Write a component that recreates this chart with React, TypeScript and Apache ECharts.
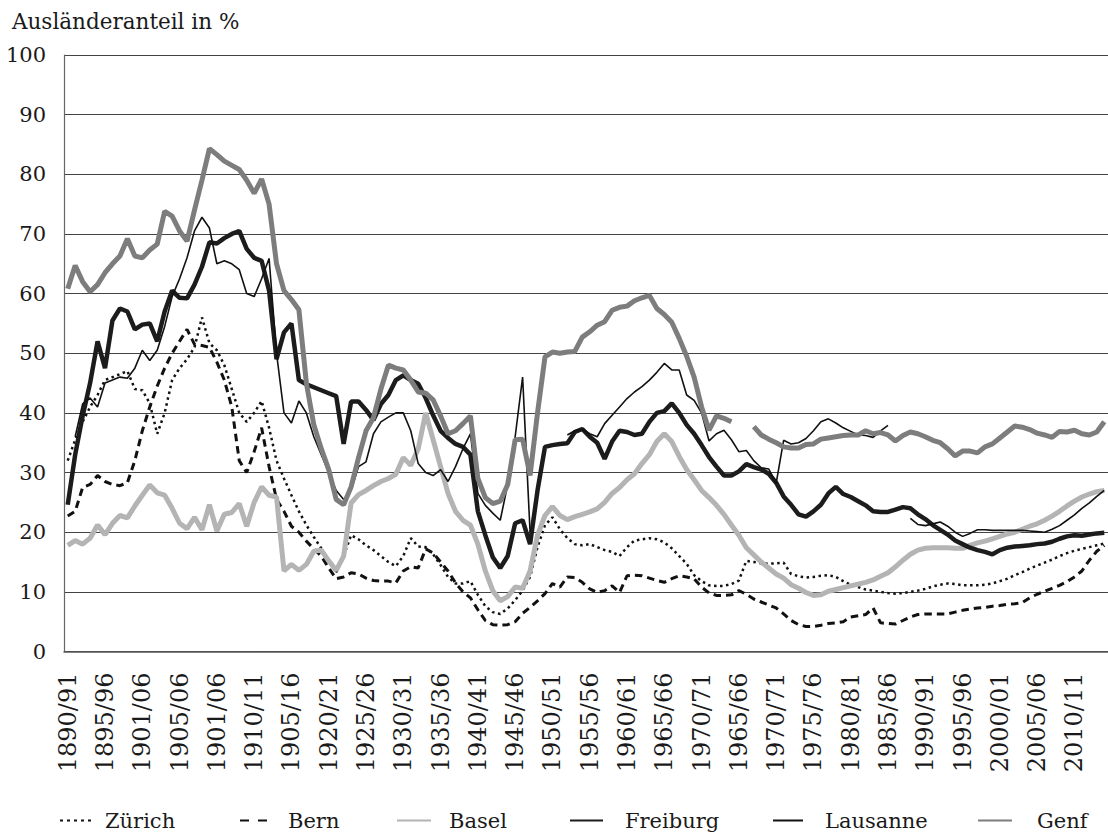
import React, { useEffect, useRef } from "react";
import * as echarts from "echarts";

const tickLabels = ["1890/91","1895/96","1901/06","1905/06","1901/06","1910/11","1905/16","1920/21","1925/26","1930/31","1935/36","1940/41","1945/46","1950/51","1955/56","1960/61","1965/66","1970/71","1965/66","1970/71","1975/76","1980/81","1985/86","1990/91","1995/96","2000/01","2005/06","2010/11"];

const zuerich = [
  32, 35.5, 38.5, 41, 43, 45.5, 46, 46.5, 47, 44,
  43.8, 41.6, 36.5, 40, 45.5, 47.5, 49, 51, 56, 51.7,
  50.5, 48, 44, 40, 38.5, 40, 42, 37.5, 32, 29,
  26.2, 23.5, 21.2, 19.2, 17.3, 15.3, 13.3, 16, 19.5, 18.8,
  17.8, 17, 16, 15, 14.3, 16, 19, 17.6, 17.5, 16.3,
  14.5, 12.5, 11.4, 11.4, 11.8, 9.5, 7.6, 6.6, 6.3, 7.2,
  8.6, 10.2, 12.5, 17.5, 21.2, 22.5, 20.5, 19, 18, 17.8,
  18, 17.5, 17, 16.7, 16, 17.5, 18.6, 18.8, 19, 18.8,
  18.3, 17.3, 16, 14.7, 12.8, 11.8, 11.1, 11, 11, 11.3,
  11.9, 15.2, 15, 14.8, 14.7, 14.8, 14.9, 13, 12.6, 12.4,
  12.5, 12.7, 12.8, 12.5, 11.8, 11.2, 10.8, 10.4, 10.2, 10,
  9.8, 9.7, 9.8, 10, 10.2, 10.5, 10.9, 11.2, 11.4, 11.3,
  11.1, 11.1, 11.1, 11.2, 11.4, 11.8, 12.2, 12.8, 13.3, 13.9,
  14.4, 14.9, 15.4, 16, 16.5, 16.9, 17.2, 17.5, 17.8, 18.1,
];

const bern = [
  22.7, 23.5, 27.5, 28, 29.5, 28.5, 28, 27.8, 28.3, 32,
  37, 41, 44.5, 47.5, 50, 52, 54, 51.5, 51.3, 51,
  48.5, 45.5, 41, 32, 30, 33.5, 37.5, 31, 25.5, 23.5,
  21, 20, 18.5, 17.2, 16, 14, 12.2, 12.5, 13.2, 13,
  12.3, 11.9, 11.8, 11.8, 11.5, 13.5, 14.2, 14, 17.2, 16.5,
  15, 13.5, 11.5, 10, 9, 7, 5.2, 4.5, 4.4, 4.5,
  5, 6.4, 7.4, 8.5, 9.7, 11.4, 10.8, 12.5, 12.4, 11.6,
  10.5, 9.9, 10.2, 11, 9.9, 12.7, 12.8, 12.7, 12.3, 11.9,
  11.6, 12.2, 12.7, 12.5, 12.2, 10.8, 9.8, 9.4, 9.4, 9.5,
  10.2, 9.6, 8.8, 8.3, 7.8, 7.3, 6.3, 5.2, 4.5, 4.2,
  4.2, 4.4, 4.7, 4.8, 5, 5.8, 6, 6.2, 7.3, 4.8,
  4.7, 4.6, 5.2, 5.8, 6.2, 6.3, 6.3, 6.3, 6.3, 6.6,
  6.9, 7.1, 7.3, 7.4, 7.6, 7.7, 7.9, 8, 8.2, 9,
  9.6, 10.1, 10.6, 11.1, 11.7, 12.5, 13.5, 15.3, 16.8, 17.8,
];

const basel = [
  17.8, 18.6, 18, 19, 21.2, 19.6, 21.5, 22.8, 22.4, 24.4,
  26.2, 27.9, 26.6, 26.2, 24, 21.5, 20.6, 22.5, 20.4, 24.6,
  20.2, 23, 23.3, 24.8, 21, 25, 27.6, 26.2, 25.9, 13.5,
  14.6, 13.6, 14.6, 16.8, 17, 15.2, 13.6, 16, 24.9, 26.3,
  27, 27.8, 28.5, 29, 29.7, 32.5, 31.2, 34, 40, 35.5,
  31, 26.5, 23.5, 22, 21.2, 18, 13.5, 10.2, 8.5, 9.2,
  10.8, 10.6, 13.5, 19.5, 22.8, 24.3, 22.8, 22.1, 22.6, 23,
  23.4, 23.9, 25, 26.5, 27.5, 28.8, 29.8, 31.5, 33, 35.2,
  36.5, 35.2, 32.7, 30.5, 28.8, 27, 25.8, 24.5, 23, 21.2,
  19.5, 17.4, 16.2, 15, 14, 13, 12.3, 11.2, 10.6, 9.9,
  9.4, 9.5, 10.1, 10.4, 10.7, 11, 11.3, 11.6, 12, 12.6,
  13.2, 14.2, 15.3, 16.3, 17, 17.3, 17.4, 17.4, 17.4, 17.3,
  17.3, 17.8, 18.2, 18.5, 18.9, 19.3, 19.7, 20, 20.5, 21,
  21.4, 22, 22.7, 23.5, 24.4, 25.2, 25.9, 26.4, 26.8, 27,
];

const freiburg = [
  24.6, 33, 39.5, 45, 52, 47.5, 55.5, 57.5, 57, 54,
  54.8, 55, 52, 57, 60.5, 59.3, 59.2, 61.5, 64.5, 68.6,
  68.4, 69.3, 70, 70.5, 67.5, 66, 65.5, 60.5, 49, 53.5,
  55, 45.5, 44.8, 44.3, 43.8, 43.3, 42.8, 34.8, 41.9, 41.9,
  40.5, 38.8, 41.5, 43, 45.5, 46.3, 45.5, 44.9, 42.5, 39.6,
  37, 35.8, 34.8, 34.3, 33, 23.5, 19.5, 15.8, 14, 16,
  21.5, 22, 18, 27, 34.3, 34.6, 34.8, 34.9, 36.8, 37.3,
  36, 35, 32.3, 35.2, 37, 36.8, 36.3, 36.5, 38.5, 40,
  40.3, 41.6, 40, 38, 36.5, 34.6, 32.6, 31, 29.5, 29.5,
  30.2, 31.4, 30.9, 30.5, 29.8, 28.3, 26, 24.6, 23, 22.6,
  23.5, 24.6, 26.5, 27.6, 26.4, 25.9, 25.2, 24.5, 23.5, 23.4,
  23.4, 23.8, 24.2, 24, 23, 22.2, 21.2, 20.4, 19.6, 18.6,
  18, 17.4, 17, 16.7, 16.3, 17, 17.4, 17.6, 17.7, 17.8,
  18, 18.1, 18.4, 18.9, 19.3, 19.5, 19.4, 19.6, 19.8, 19.9,
];

const lausanne = [
  null, 36, 41.5, 42.5, 41, 45, 45.5, 46, 45.8, 47.5,
  50.5, 48.8, 50.5, 54.5, 59.5, 62.5, 66, 70.5, 72.8, 71,
  65, 65.5, 65, 64, 60, 59.5, 62.5, 65.9, 50, 40,
  38.3, 42, 40, 36, 33, 30, 27, 25.5, 27, 31,
  31.8, 36.5, 38.5, 39.3, 40, 40, 37, 31.5, 30, 29.5,
  30.5, 28.5, 31, 34, 36.5, 26.5, 24.5, 23.2, 22, 28,
  36, 46, 20, null, null, null, null, 36.3, 37, 37.3,
  36.5, 36, 38.2, 39.6, 41, 42.4, 43.5, 44.4, 45.5, 46.8,
  48.3, 47.2, 47.2, 43, 42.1, 40, 35.3, 36.5, 37.1, 35.5,
  33.5, 33.7, 32, 30.8, 30.6, 28.2, 35.4, 34.8, 35, 35.7,
  37, 38.5, 39, 38.3, 37.5, 36.9, 36.3, 36.2, 35.9, 37,
  37.9, null, null, 22.3, 21.3, 21.1, 21.4, 21.7, 21, 20,
  19.3, 19.8, 20.4, 20.4, 20.3, 20.3, 20.3, 20.3, 20.3, 20.2,
  20.1, 20, 20.5, 21.1, 22, 22.9, 24, 24.9, 26, 27,
];

const genf = [
  60.8, 64.7, 62, 60.3, 61.5, 63.5, 65, 66.3, 69.2, 66.3,
  66, 67.3, 68.3, 73.8, 73, 70.5, 68.8, 74, 79, 84.3,
  83.3, 82.2, 81.5, 80.8, 79, 76.8, 79.2, 75, 65, 60.5,
  59, 57.3, 45, 38, 34, 30.5, 25.5, 24.6, 27.6, 32.5,
  37, 39.2, 44, 48, 47.5, 47.2, 45.5, 43.5, 43.3, 42.2,
  39.5, 36.5, 37, 38.2, 39.5, 29, 25.8, 24.8, 25.2, 28,
  35.5, 35.6, 29.5, 40, 49.4, 50.2, 50, 50.2, 50.3, 52.7,
  53.6, 54.7, 55.3, 57.2, 57.7, 57.9, 58.8, 59.3, 59.7, 57.5,
  56.5, 55.2, 52.5, 49.5, 46, 41, 37.1, 39.5, 39.1, 38.5,
  null, null, 37.7, 36.3, 35.6, 35, 34.3, 34.1, 34.1, 34.7,
  34.8, 35.6, 35.8, 36, 36.2, 36.3, 36.3, 37, 36.5, 36.7,
  36.3, 35.3, 36.2, 36.8, 36.5, 36, 35.4, 35, 34, 32.8,
  33.6, 33.6, 33.3, 34.3, 34.8, 35.8, 36.8, 37.8, 37.6, 37.2,
  36.6, 36.3, 35.9, 36.9, 36.8, 37.1, 36.5, 36.3, 36.8, 38.5,
];

const yTicks = [0, 10, 20, 30, 40, 50, 60, 70, 80, 90, 100];

const FONT = "DejaVu Serif";
const INK = "#1a1a1a";

export default function App() {
  const ref = useRef<HTMLDivElement>(null);

  useEffect(() => {
    if (!ref.current) return;
    const chart = echarts.init(ref.current, undefined, { renderer: "svg" });
    const n = zuerich.length;
    const categories = Array.from({ length: n }, (_, i) => String(i));

    // icon left, icon width, text start x
    const mkLegend = (name: string, left: number, w: number, textX: number, extra: any = {}) => ({
      data: [name],
      left,
      top: 810,
      orient: "horizontal",
      itemWidth: w,
      itemHeight: 26,
      padding: 0,
      itemStyle: { color: "rgba(0,0,0,0)", borderWidth: 0, opacity: 0 },
      textStyle: {
        fontFamily: FONT,
        fontSize: 21,
        color: INK,
        padding: [0, 0, 0, Math.max(0, textX - left - w - 5)],
      },
      ...extra,
    });

    chart.setOption({
      animation: false,
      backgroundColor: "#ffffff",
      textStyle: { fontFamily: FONT },
      title: {
        text: "Ausländeranteil in %",
        left: 12,
        top: 10,
        padding: 0,
        textStyle: { fontFamily: FONT, fontSize: 21.5, fontWeight: "normal", color: INK },
      },
      grid: { left: 64, right: -5, top: 55, bottom: 188.5, containLabel: false },
      legend: [
        mkLegend("Zürich", 59, 32, 104, { lineStyle: { type: [3, 4] } }),
        mkLegend("Bern", 239, 27, 287, { lineStyle: { type: [9, 9] } }),
        mkLegend("Basel", 396, 34, 448),
        mkLegend("Freiburg", 569, 33, 624),
        mkLegend("Lausanne", 772, 30, 824),
        mkLegend("Genf", 977, 34, 1036),
      ],
      xAxis: {
        type: "category",
        data: categories,
        boundaryGap: true,
        axisLine: { show: true, lineStyle: { color: "#555", width: 1.5 } },
        axisTick: { show: false },
        axisLabel: {
          interval: 4,
          rotate: 90,
          margin: 21,
          fontFamily: FONT,
          fontSize: 24,
          color: INK,
          formatter: (_v: string, idx: number) => (idx % 5 === 0 ? tickLabels[idx / 5] : ""),
        },
        splitLine: { show: false },
      },
      yAxis: {
        type: "value",
        min: yTicks[0],
        max: yTicks[yTicks.length - 1],
        interval: yTicks[1] - yTicks[0],
        axisLine: { show: true, lineStyle: { color: "#666", width: 1.2 } },
        axisTick: { show: false },
        axisLabel: { margin: 18, fontFamily: FONT, fontSize: 21, color: INK },
        splitLine: { show: true, lineStyle: { color: "#444", width: 1.2 } },
      },
      series: [
        {
          name: "Zürich", type: "line", data: zuerich, symbol: "none", connectNulls: false,
          lineStyle: { color: "#111", width: 2.5, type: [2.5, 3.5], cap: "butt" },
          itemStyle: { color: "#111" },
        },
        {
          name: "Bern", type: "line", data: bern, symbol: "none", connectNulls: false,
          lineStyle: { color: "#111", width: 3, type: [7.5, 5], cap: "butt" },
          itemStyle: { color: "#111" },
        },
        {
          name: "Basel", type: "line", data: basel, symbol: "none", connectNulls: false,
          lineStyle: { color: "#b4b4b4", width: 5 },
          itemStyle: { color: "#b4b4b4" },
        },
        {
          name: "Freiburg", type: "line", data: freiburg, symbol: "none", connectNulls: false,
          lineStyle: { color: "#1c1c1c", width: 4.5 },
          itemStyle: { color: "#1c1c1c" },
        },
        {
          name: "Lausanne", type: "line", data: lausanne, symbol: "none", connectNulls: false,
          lineStyle: { color: "#111", width: 1.6 },
          itemStyle: { color: "#111" },
        },
        {
          name: "Genf", type: "line", data: genf, symbol: "none", connectNulls: false,
          lineStyle: { color: "#7d7d7d", width: 5 },
          itemStyle: { color: "#7d7d7d" },
        },
      ],
    });

    return () => chart.dispose();
  }, []);

  return (
    <div
      ref={ref}
      style={{ position: "fixed", left: 0, top: 0, width: 1108, height: 840, background: "#fff" }}
    />
  );
}
